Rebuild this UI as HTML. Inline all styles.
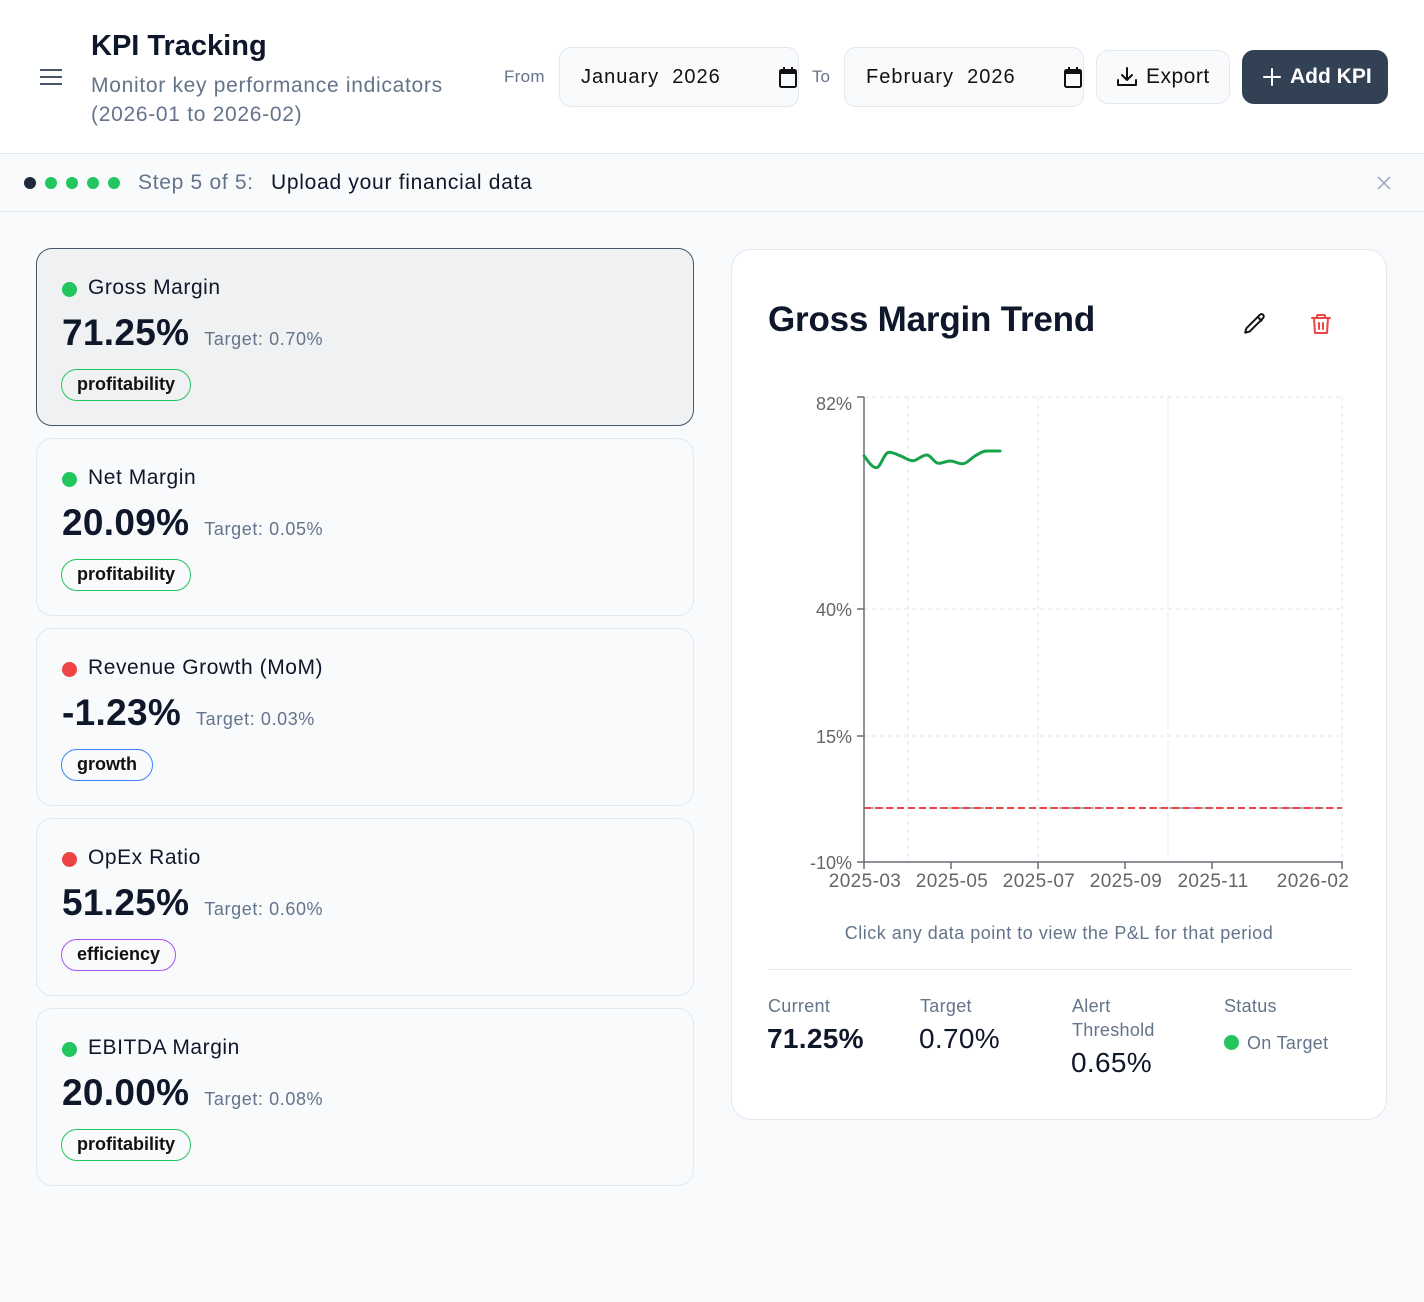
<!DOCTYPE html>
<html><head><meta charset="utf-8">
<style>
*{box-sizing:border-box;margin:0;padding:0}
body{width:1424px;height:1302px;background:#f8fafc;font-family:"Liberation Sans",Arial,sans-serif;position:relative;overflow:hidden;color:#0f172a}
.abs{position:absolute}
.header{left:0;top:0;width:1424px;height:154px;background:#fff;border-bottom:1px solid #e2e8f0}
.step{left:0;top:154px;width:1424px;height:58px;background:#f8fafc;border-bottom:1px solid #e2e8f0}
.input{height:60px;top:47px;width:240px;border:1px solid #e2e8f0;border-radius:12px;background:#f8fafc}
.input span{position:absolute;left:21px;top:17px;font-size:20px;line-height:24px;color:#111;letter-spacing:1px;white-space:pre}
.card{left:36px;width:658px;height:178px;border:1px solid #e2e8f0;border-radius:16px;background:#f8fafc}
.card.sel{background:#f0f1f3;border:1px solid #475569}
.dot{position:absolute;left:25px;top:33px;width:15px;height:15px;border-radius:50%}
.ctitle{position:absolute;left:51px;top:27px;font-size:21px;line-height:24px;color:#0f172a;white-space:nowrap;letter-spacing:0.55px}
.val{position:absolute;left:25px;top:64px;display:flex;align-items:baseline;white-space:nowrap}
.val b{font-size:37px;line-height:40px;font-weight:700;color:#0f172a;letter-spacing:0.3px}
.val span{font-size:18px;color:#64748b;margin-left:15px;letter-spacing:0.6px}
.tag{position:absolute;left:24px;top:120px;height:32px;border-radius:16px;border:1.5px solid #22c55e;padding:0 15px;font-size:18px;line-height:29px;font-weight:700;color:#111;letter-spacing:0px}
.panel{left:731px;top:249px;width:656px;height:871px;background:#fff;border:1px solid #e2e8f0;border-radius:20px}
.lbl{font-size:18px;line-height:24px;color:#64748b;letter-spacing:0.3px}
.sv{font-size:28px;line-height:34px;color:#0f172a;letter-spacing:0.3px}
</style></head><body>

<div class="abs header"></div>
<div class="abs" style="left:40px;top:69px;width:22px;height:2px;background:#475569"></div>
<div class="abs" style="left:40px;top:76px;width:22px;height:2px;background:#475569"></div>
<div class="abs" style="left:40px;top:83px;width:22px;height:2px;background:#475569"></div>

<div class="abs" style="left:91px;top:29px;font-size:29px;line-height:34px;font-weight:700;letter-spacing:0px;color:#0f172a">KPI Tracking</div>
<div class="abs" style="left:91px;top:71px;font-size:21px;line-height:29px;color:#64748b;letter-spacing:0.7px;width:400px">Monitor key performance indicators<br>(2026-01 to 2026-02)</div>

<div class="abs" style="left:504px;top:66px;font-size:17px;line-height:22px;color:#64748b;letter-spacing:0.3px">From</div>
<div class="abs input" style="left:559px"><span>January  2026</span>
<svg class="abs" style="left:218px;top:19px" width="20" height="22" viewBox="0 0 20 22"><rect x="2" y="3" width="16" height="17" rx="1.5" fill="none" stroke="#111" stroke-width="2"/><rect x="2" y="3" width="16" height="4" fill="#111"/><rect x="5" y="0" width="2" height="4" fill="#111"/><rect x="13" y="0" width="2" height="4" fill="#111"/></svg>
</div>
<div class="abs" style="left:812px;top:66px;font-size:17px;line-height:22px;color:#64748b">To</div>
<div class="abs input" style="left:844px"><span>February  2026</span>
<svg class="abs" style="left:218px;top:19px" width="20" height="22" viewBox="0 0 20 22"><rect x="2" y="3" width="16" height="17" rx="1.5" fill="none" stroke="#111" stroke-width="2"/><rect x="2" y="3" width="16" height="4" fill="#111"/><rect x="5" y="0" width="2" height="4" fill="#111"/><rect x="13" y="0" width="2" height="4" fill="#111"/></svg>
</div>

<div class="abs" style="left:1096px;top:50px;width:134px;height:54px;border:1px solid #e2e8f0;border-radius:12px;background:#f8fafc"></div>
<svg class="abs" style="left:1116px;top:66px" width="22" height="22" viewBox="0 0 22 22"><path d="M11 2 V14 M6 9 L11 14 L16 9" fill="none" stroke="#111" stroke-width="2" stroke-linecap="round" stroke-linejoin="round"/><path d="M2 14 V19 H20 V14" fill="none" stroke="#111" stroke-width="2" stroke-linecap="round" stroke-linejoin="round"/></svg>
<div class="abs" style="left:1146px;top:64px;font-size:21px;line-height:26px;font-weight:500;color:#111;letter-spacing:0.5px">Export</div>

<div class="abs" style="left:1242px;top:50px;width:146px;height:54px;border-radius:12px;background:#334155"></div>
<svg class="abs" style="left:1262px;top:67px" width="20" height="20" viewBox="0 0 20 20"><path d="M10 2 V18 M2 10 H18" stroke="#fff" stroke-width="2" stroke-linecap="round"/></svg>
<div class="abs" style="left:1290px;top:64px;font-size:21px;line-height:26px;font-weight:700;color:#fff">Add KPI</div>

<div class="abs step"></div>
<div class="abs" style="left:24px;top:177px;width:12px;height:12px;border-radius:50%;background:#1e293b"></div>
<div class="abs" style="left:45px;top:177px;width:12px;height:12px;border-radius:50%;background:#22c55e"></div>
<div class="abs" style="left:66px;top:177px;width:12px;height:12px;border-radius:50%;background:#22c55e"></div>
<div class="abs" style="left:87px;top:177px;width:12px;height:12px;border-radius:50%;background:#22c55e"></div>
<div class="abs" style="left:108px;top:177px;width:12px;height:12px;border-radius:50%;background:#22c55e"></div>
<div class="abs" style="left:138px;top:171px;font-size:21px;line-height:24px;color:#64748b;letter-spacing:0.7px">Step 5 of 5:</div>
<div class="abs" style="left:271px;top:171px;font-size:21px;line-height:24px;color:#0f172a;letter-spacing:0.72px">Upload your financial data</div>
<svg class="abs" style="left:1377px;top:176px" width="14" height="14" viewBox="0 0 14 14"><path d="M1 1 L13 13 M13 1 L1 13" stroke="#94a3b8" stroke-width="1.5"/></svg>

<div class="abs card sel" style="top:248px">
  <div class="dot" style="background:#22c55e"></div><div class="ctitle">Gross Margin</div>
  <div class="val"><b>71.25%</b><span>Target: 0.70%</span></div>
  <div class="tag">profitability</div>
</div>
<div class="abs card" style="top:438px">
  <div class="dot" style="background:#22c55e"></div><div class="ctitle">Net Margin</div>
  <div class="val"><b>20.09%</b><span>Target: 0.05%</span></div>
  <div class="tag">profitability</div>
</div>
<div class="abs card" style="top:628px">
  <div class="dot" style="background:#ef4444"></div><div class="ctitle">Revenue Growth (MoM)</div>
  <div class="val"><b>-1.23%</b><span>Target: 0.03%</span></div>
  <div class="tag" style="border-color:#3b82f6">growth</div>
</div>
<div class="abs card" style="top:818px">
  <div class="dot" style="background:#ef4444"></div><div class="ctitle">OpEx Ratio</div>
  <div class="val"><b>51.25%</b><span>Target: 0.60%</span></div>
  <div class="tag" style="border-color:#a855f7">efficiency</div>
</div>
<div class="abs card" style="top:1008px">
  <div class="dot" style="background:#22c55e"></div><div class="ctitle">EBITDA Margin</div>
  <div class="val"><b>20.00%</b><span>Target: 0.08%</span></div>
  <div class="tag">profitability</div>
</div>

<div class="abs panel"></div>
<div class="abs" style="left:768px;top:300px;font-size:35px;line-height:40px;font-weight:700;letter-spacing:-0.2px;color:#0f172a;white-space:nowrap">Gross Margin Trend</div>
<svg class="abs" style="left:1242px;top:311px" width="26" height="26" viewBox="0 0 24 24"><path d="M16.5 3.5 a2.1 2.1 0 0 1 3 3 L7 19 L3 20 L4 16 Z" fill="none" stroke="#111" stroke-width="1.8" stroke-linejoin="round"/><path d="M14.5 5.5 L18.5 9.5" stroke="#111" stroke-width="1.8"/></svg>
<svg class="abs" style="left:1309px;top:312px" width="24" height="24" viewBox="0 0 24 24"><path d="M3 6 H21 M8 6 V4 a1 1 0 0 1 1 -1 H15 a1 1 0 0 1 1 1 V6 M5 6 L6 21 H18 L19 6 M10 11 V17 M14 11 V17" fill="none" stroke="#ef4444" stroke-width="2" stroke-linecap="round" stroke-linejoin="round"/></svg>

<svg class="abs" style="left:0;top:0" width="1424" height="1302" viewBox="0 0 1424 1302">
  <g stroke="#e2e8f0" stroke-width="1.2" stroke-dasharray="4 4" fill="none">
    <line x1="864" y1="397" x2="1342" y2="397"/>
    <line x1="864" y1="609" x2="1342" y2="609"/>
    <line x1="864" y1="736" x2="1342" y2="736"/>
    <line x1="908" y1="397" x2="908" y2="862"/>
    <line x1="1038" y1="397" x2="1038" y2="862"/>
    <line x1="1168" y1="397" x2="1168" y2="862"/>
    <line x1="1342" y1="397" x2="1342" y2="862"/>
  </g>
  <line x1="864" y1="808" x2="1342" y2="808" stroke="#94a3b8" stroke-width="1.8" stroke-dasharray="5 5" stroke-dashoffset="5"/>
  <line x1="864" y1="808" x2="1342" y2="808" stroke="#ef4444" stroke-width="2" stroke-dasharray="7 4"/>
  <g stroke="#6b6b76" stroke-width="1.5" fill="none">
    <line x1="864" y1="397" x2="864" y2="862"/>
    <line x1="864" y1="862" x2="1343" y2="862"/>
    <line x1="857" y1="397" x2="864" y2="397"/>
    <line x1="857" y1="609" x2="864" y2="609"/>
    <line x1="857" y1="736" x2="864" y2="736"/>
    <line x1="857" y1="862" x2="864" y2="862"/>
    <line x1="864" y1="862" x2="864" y2="869"/>
    <line x1="951" y1="862" x2="951" y2="869"/>
    <line x1="1038" y1="862" x2="1038" y2="869"/>
    <line x1="1125" y1="862" x2="1125" y2="869"/>
    <line x1="1212" y1="862" x2="1212" y2="869"/>
    <line x1="1342" y1="862" x2="1342" y2="869"/>
  </g>
  <g font-family="Liberation Sans, Arial, sans-serif" font-size="18" fill="#666" text-anchor="end">
    <text x="852" y="410">82%</text>
    <text x="852" y="616">40%</text>
    <text x="852" y="743">15%</text>
    <text x="852" y="869">-10%</text>
  </g>
  <g font-family="Liberation Sans, Arial, sans-serif" font-size="19" fill="#666" text-anchor="middle" letter-spacing="0.4">
    <text x="865" y="887">2025-03</text>
    <text x="952" y="887">2025-05</text>
    <text x="1039" y="887">2025-07</text>
    <text x="1126" y="887">2025-09</text>
    <text x="1213" y="887">2025-11</text>
    <text x="1313" y="887">2026-02</text>
  </g>
  <path d="M864 455.7 C868 461,872 468,876.7 467.7 C881 467,884 452,889.3 452.3 C893 452.5,896 454,900 455.7 C905 457.5,909 461,913.3 460.7 C918 460,922 455,926.7 455 C931 455,934 463,938.3 463.3 C943 463.5,946 461,950 461 C955 461,959 464.5,963.3 463.7 C968 463,972 457,976.7 455 C980 453,983 451,986.7 451 L1000 451" fill="none" stroke="#16a34a" stroke-width="3" stroke-linecap="round" stroke-linejoin="round"/>
</svg>

<div class="abs" style="left:731px;top:921px;width:656px;text-align:center;font-size:18px;line-height:24px;color:#64748b;letter-spacing:0.5px">Click any data point to view the P&amp;L for that period</div>
<div class="abs" style="left:768px;top:969px;width:583px;height:1px;background:#e2e8f0"></div>

<div class="abs lbl" style="left:768px;top:994px">Current</div>
<div class="abs sv" style="left:767px;top:1022px;font-weight:700">71.25%</div>
<div class="abs lbl" style="left:920px;top:994px">Target</div>
<div class="abs sv" style="left:919px;top:1022px;font-weight:500">0.70%</div>
<div class="abs lbl" style="left:1072px;top:994px">Alert<br>Threshold</div>
<div class="abs sv" style="left:1071px;top:1046px;font-weight:500">0.65%</div>
<div class="abs lbl" style="left:1224px;top:994px">Status</div>
<div class="abs" style="left:1224px;top:1035px;width:15px;height:15px;border-radius:50%;background:#22c55e"></div>
<div class="abs lbl" style="left:1247px;top:1031px">On Target</div>

</body></html>
